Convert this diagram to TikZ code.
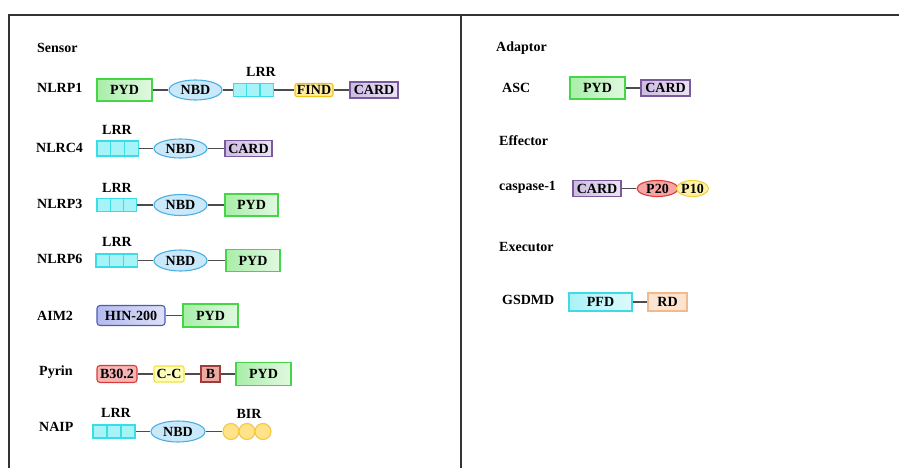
\documentclass[tikz,border=0pt]{standalone}
\usepackage{fontspec}
\setmainfont{Liberation Serif}
\usepackage{tikz}
\usetikzlibrary{positioning,shapes.geometric}
\definecolor{pydline}{HTML}{45D645}
\definecolor{pydfill}{HTML}{A9EDA9}
\definecolor{nbdline}{HTML}{4AB0E4}
\definecolor{nbdfill}{HTML}{C9E8FA}
\definecolor{lrrline}{HTML}{38DDE6}
\definecolor{lrrfill}{HTML}{A6F4F8}
\definecolor{findline}{HTML}{F0C21A}
\definecolor{findfill}{HTML}{FFEF9C}
\definecolor{cardline}{HTML}{7A5A9B}
\definecolor{cardfill}{HTML}{CDBBE3}
\definecolor{hinline}{HTML}{4B5BB5}
\definecolor{hinfill}{HTML}{B4BAEE}
\definecolor{bthline}{HTML}{D93A3A}
\definecolor{bthfill}{HTML}{F7B4B4}
\definecolor{ccline}{HTML}{F2E23A}
\definecolor{ccfill}{HTML}{FFFFBE}
\definecolor{bbline}{HTML}{9E3B3B}
\definecolor{bbfill}{HTML}{EAA9A3}
\definecolor{birline}{HTML}{F3C843}
\definecolor{birfill}{HTML}{FFE38A}
\definecolor{ptwline}{HTML}{E03A3A}
\definecolor{ptwfill}{HTML}{F6A5A5}
\definecolor{ptnline}{HTML}{F3D040}
\definecolor{ptnfill}{HTML}{FFF2A6}
\definecolor{pfdline}{HTML}{40DAE5}
\definecolor{pfdfill}{HTML}{A9F2F8}
\definecolor{rdline}{HTML}{F0B98E}
\definecolor{rdfill}{HTML}{FDE4D0}
\tikzset{
  % beschriftung
  lab/.style={anchor=west,inner sep=0pt,font=\fontsize{14}{16}\selectfont\bfseries},
  frame/.style={draw=black!80,line width=1.3pt},
  lnk/.style={draw=black!70,line width=1.3pt},
  % domaenen
  dom/.style={rectangle,inner sep=0pt,line width=1.1pt,
              font=\fontsize{14}{16}\selectfont\bfseries},
  pyd/.style={dom,draw=pydline,left color=pydfill,right color=pydfill!35},
  nbd/.style={dom,ellipse,draw=nbdline,fill=nbdfill},
  lrr/.style={dom,draw=lrrline,fill=lrrfill,minimum height=13},
  find/.style={dom,draw=findline,fill=findfill,rounded corners=2pt},
  card/.style={dom,draw=cardline,left color=cardfill,right color=cardfill!40},
  hin/.style={dom,draw=hinline,left color=hinfill,right color=hinfill!45,rounded corners=3pt},
  bth/.style={dom,draw=bthline,fill=bthfill,rounded corners=3pt},
  cc/.style={dom,draw=ccline,fill=ccfill,rounded corners=2pt},
  bb/.style={dom,draw=bbline,fill=bbfill},
  bir/.style={dom,circle,draw=birline,fill=birfill,minimum size=16},
  ptw/.style={dom,ellipse,draw=ptwline,fill=ptwfill},
  ptn/.style={dom,ellipse,draw=ptnline,fill=ptnfill},
  pfd/.style={dom,draw=pfdline,left color=pfdfill,right color=pfdfill!40},
  rd/.style={dom,draw=rdline,fill=rdfill},
}
\begin{document}
\begin{tikzpicture}[x=1pt,y=-1pt]
\useasboundingbox (0,0) rectangle (899,468);
  \draw[frame] (9,468) -- (9,15) -- (899,15);
  \draw[frame] (461,15) -- (461,468);
  % Sensor
  \node[lab] (sensor) at (37,48) {Sensor};
  \node[lab] (nlrp1) at (37,88) {NLRP1};
  \node[pyd,minimum width=55,minimum height=22] (pyd1) at (124.5,90) {PYD};
  \node[nbd,minimum width=53,minimum height=20] (nbd1) at (195.5,90) {NBD};
  \foreach \c [count=\k] in {a,b,c}
    \node[lrr,minimum width=13.3] (lrr1\c) at ({226.7+13.3*\k},90) {};
  \node[lab,anchor=center] (lrrt1) at (261,72) {LRR};
  \node[find,minimum width=38,minimum height=13] (find1) at (314,90) {FIND};
  \node[card,minimum width=48,minimum height=16] (card1) at (374,90) {CARD};
  \draw[lnk] (pyd1) -- (nbd1);
  \draw[lnk] (nbd1) -- (lrr1a);
  \draw[lnk] (lrr1c) -- (find1);
  \draw[lnk] (find1) -- (card1);

  \node[lab] (nlrc4) at (36,148) {NLRC4};
  \foreach \c [count=\k] in {a,b,c}
    \node[lrr,minimum width=13.7,minimum height=15] (lrr2\c) at ({90.1+13.7*\k},148.5) {};
  \node[lab,anchor=center] (lrrt2) at (117,130) {LRR};
  \node[nbd,minimum width=53,minimum height=19] (nbd2) at (180.5,148.5) {NBD};
  \node[card,minimum width=47,minimum height=16] (card2) at (248.5,148.5) {CARD};
  \draw[lnk] (lrr2c) -- (nbd2);
  \draw[lnk] (nbd2) -- (card2);

  \node[lab] (nlrp3) at (37,204) {NLRP3};
  \foreach \c [count=\k] in {a,b,c}
    \node[lrr,minimum width=13.3] (lrr3\c) at ({90.3+13.3*\k},205) {};
  \node[lab,anchor=center] (lrrt3) at (117,188) {LRR};
  \node[nbd,minimum width=53,minimum height=21] (nbd3) at (180.5,205) {NBD};
  \node[pyd,minimum width=53,minimum height=22] (pyd3) at (251.5,205) {PYD};
  \draw[lnk] (lrr3c) -- (nbd3);
  \draw[lnk] (nbd3) -- (pyd3);

  \node[lab] (nlrp6) at (37,259) {NLRP6};
  \foreach \c [count=\k] in {a,b,c}
    \node[lrr,minimum width=13.7] (lrr4\c) at ({89.1+13.7*\k},260.5) {};
  \node[lab,anchor=center] (lrrt4) at (117,242) {LRR};
  \node[nbd,minimum width=53,minimum height=21] (nbd4) at (180.5,260.5) {NBD};
  \node[pyd,minimum width=54,minimum height=22] (pyd4) at (253,260.5) {PYD};
  \draw[lnk] (lrr4c) -- (nbd4);
  \draw[lnk] (nbd4) -- (pyd4);

  \node[lab] (aim2) at (37,316) {AIM2};
  \node[hin,minimum width=68,minimum height=20] (hin5) at (131,315.5) {HIN-200};
  \node[pyd,minimum width=55,minimum height=23] (pyd5) at (210.5,315.5) {PYD};
  \draw[lnk] (hin5) -- (pyd5);

  \node[lab] (pyrin) at (39,372) {Pyrin};
  \node[bth,minimum width=40,minimum height=17] (bth6) at (117,374) {B30.2};
  \node[cc,minimum width=30,minimum height=16] (cc6) at (169,374) {C-C};
  \node[bb,minimum width=19,minimum height=16] (bb6) at (210.5,374) {B};
  \node[pyd,minimum width=55,minimum height=23] (pyd6) at (263.5,374) {PYD};
  \draw[lnk] (bth6) -- (cc6);
  \draw[lnk] (cc6) -- (bb6);
  \draw[lnk] (bb6) -- (pyd6);

  \node[lab] (naip) at (39,427) {NAIP};
  \foreach \c [count=\k] in {a,b,c}
    \node[lrr,minimum width=14] (lrr7\c) at ({86+14*\k},431.5) {};
  \node[lab,anchor=center] (lrrt7) at (116,413) {LRR};
  \node[nbd,minimum width=54,minimum height=21] (nbd7) at (178,431.5) {NBD};
  \foreach \c [count=\k] in {a,b,c}
    \node[bir] (bir7\c) at ({215+16*\k},431.5) {};
  \node[lab,anchor=center] (birt7) at (249,414) {BIR};
  \draw[lnk] (lrr7c) -- (nbd7);
  \draw[lnk] (nbd7) -- (bir7a);

  % Adaptor / Effector / Executor
  \node[lab] (adaptor) at (496,48) {Adaptor};
  \node[lab] (asc) at (502,88) {ASC};
  \node[pyd,minimum width=55,minimum height=22] (pyda) at (597.5,88) {PYD};
  \node[card,minimum width=49,minimum height=16] (carda) at (665.5,88) {CARD};
  \draw[lnk] (pyda) -- (carda);

  \node[lab] (effector) at (499,141) {Effector};
  \node[lab] (casp1) at (499,187) {caspase-1};
  \node[card,minimum width=48,minimum height=16] (cardc) at (597,188.5) {CARD};
  \node[ptw,minimum width=41,minimum height=16] (p20) at (657.5,188.5) {P20};
  \node[ptn,minimum width=29,minimum height=16] (p10) at (692.5,188.5) {P10};
  \draw[lnk] (cardc) -- (p20);

  \node[lab] (executor) at (499,247) {Executor};
  \node[lab] (gsdmd) at (502,300) {GSDMD};
  \node[pfd,minimum width=63,minimum height=18] (pfd) at (600.5,302) {PFD};
  \node[rd,minimum width=39,minimum height=18] (rd) at (667.5,302) {RD};
  \draw[lnk] (pfd) -- (rd);
\end{tikzpicture}
\end{document}
